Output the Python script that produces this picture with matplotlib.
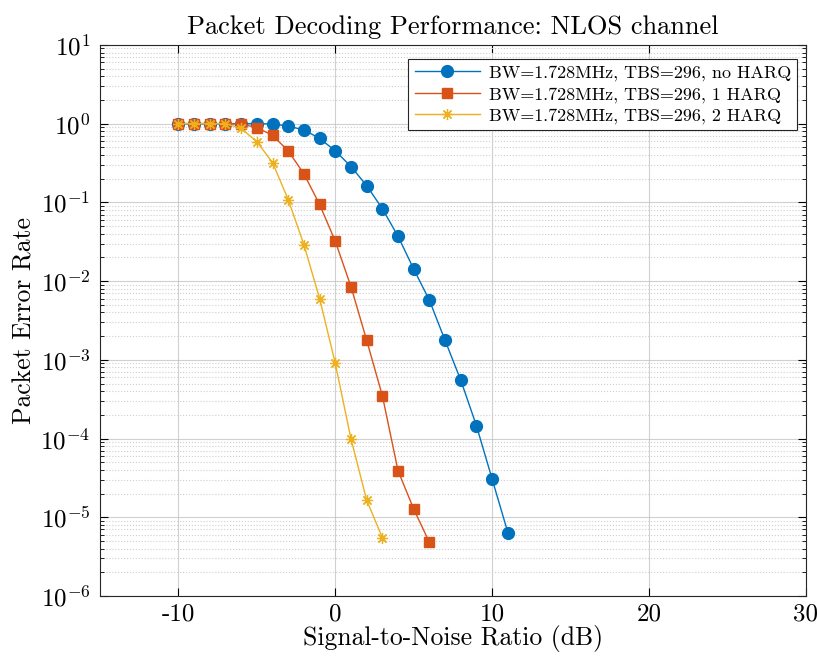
import numpy as np
import matplotlib
matplotlib.use("Agg")
import matplotlib.pyplot as plt
from matplotlib.ticker import LogLocator, NullFormatter, MultipleLocator, FuncFormatter

plt.rcParams['font.family'] = 'serif'
plt.rcParams['font.serif'] = ['cmr10', 'DejaVu Serif']
plt.rcParams['mathtext.fontset'] = 'cm'
plt.rcParams['axes.formatter.use_mathtext'] = True
plt.rcParams['axes.unicode_minus'] = False

# SNR (dB) for each curve
snr_no_harq = [-10, -9, -8, -7, -6, -5, -4, -3, -2, -1, 0, 1, 2, 3, 4, 5, 6, 7, 8, 9, 10, 11]
snr_1_harq = [-10, -9, -8, -7, -6, -5, -4, -3, -2, -1, 0, 1, 2, 3, 4, 5, 6]
snr_2_harq = [-10, -9, -8, -7, -6, -5, -4, -3, -2, -1, 0, 1, 2, 3]

# Packet error rate
per_no_harq = [1.0, 1.0, 1.0, 1.0, 1.0, 1.0, 0.99, 0.93, 0.83, 0.65, 0.45, 0.285, 0.163,
               0.083, 0.037, 0.0142, 0.0057, 0.00176, 0.00055, 0.000145, 3.05e-5, 6.4e-6]
per_1_harq = [1.0, 1.0, 1.0, 1.0, 0.99, 0.89, 0.71, 0.45, 0.23, 0.094, 0.032, 0.0085,
              0.00177, 0.00035, 3.9e-5, 1.27e-5, 4.8e-6]
per_2_harq = [1.0, 1.0, 1.0, 1.0, 0.87, 0.59, 0.32, 0.108, 0.029, 0.006, 0.0009,
              9.9e-5, 1.65e-5, 5.5e-6]

labels = ["BW=1.728MHz, TBS=296, no HARQ",
          "BW=1.728MHz, TBS=296, 1 HARQ",
          "BW=1.728MHz, TBS=296, 2 HARQ"]

fig = plt.figure(figsize=(8.17, 6.64), dpi=100)
ax = fig.add_axes([0.1224, 0.1024, 0.864, 0.830])

ax.semilogy(snr_no_harq, per_no_harq, '-', color='#0072BD', marker='o', markersize=8.5,
            linewidth=1.0, label=labels[0])
ax.semilogy(snr_1_harq, per_1_harq, '-', color='#D95319', marker='s', markersize=6.5,
            linewidth=1.0, label=labels[1])
ax.semilogy(snr_2_harq, per_2_harq, '-', color='#EDB120', marker=(8, 2, 0), markersize=8,
            markeredgewidth=0.9, linewidth=1.0, label=labels[2])

ax.set_xlim(-15, 30)
ax.set_ylim(1e-6, 1e1)
ax.xaxis.set_major_locator(MultipleLocator(10))
ax.xaxis.set_major_formatter(FuncFormatter(lambda v, p: '%d' % v))
ax.yaxis.set_major_locator(LogLocator(base=10, numticks=20))
ax.yaxis.set_minor_locator(LogLocator(base=10, subs=np.arange(2, 10), numticks=20))
ax.yaxis.set_minor_formatter(NullFormatter())

ax.grid(True, which='major', color='#bdbdbd', linewidth=0.8, alpha=0.7)
ax.grid(True, which='minor', axis='y', color='#cfcfcf', linestyle=':', linewidth=0.8)
ax.set_axisbelow(True)

ax.tick_params(which='both', direction='in', top=True, right=True, labelsize=18)
ax.tick_params(axis='y', pad=7)
ax.tick_params(axis='x', pad=5)
ax.tick_params(which='major', length=6)
ax.tick_params(which='minor', length=3)
for s in ax.spines.values():
    s.set_color('#262626')
    s.set_linewidth(0.8)

ax.set_title('Packet Decoding Performance: NLOS channel', fontsize=19, pad=8)
ax.set_xlabel('Signal-to-Noise Ratio (dB)', fontsize=18.5, labelpad=0)
ax.set_ylabel('Packet Error Rate', fontsize=18.5, labelpad=3)

leg = ax.legend(loc='upper right', fontsize=13, fancybox=False, framealpha=1,
                edgecolor='#262626', borderaxespad=0.4, handlelength=3.6,
                labelspacing=0.3, borderpad=0.35, handletextpad=0.5,
                bbox_to_anchor=(0.998, 0.988))
leg.get_frame().set_linewidth(0.8)

fig.savefig('out.png', dpi=100)
